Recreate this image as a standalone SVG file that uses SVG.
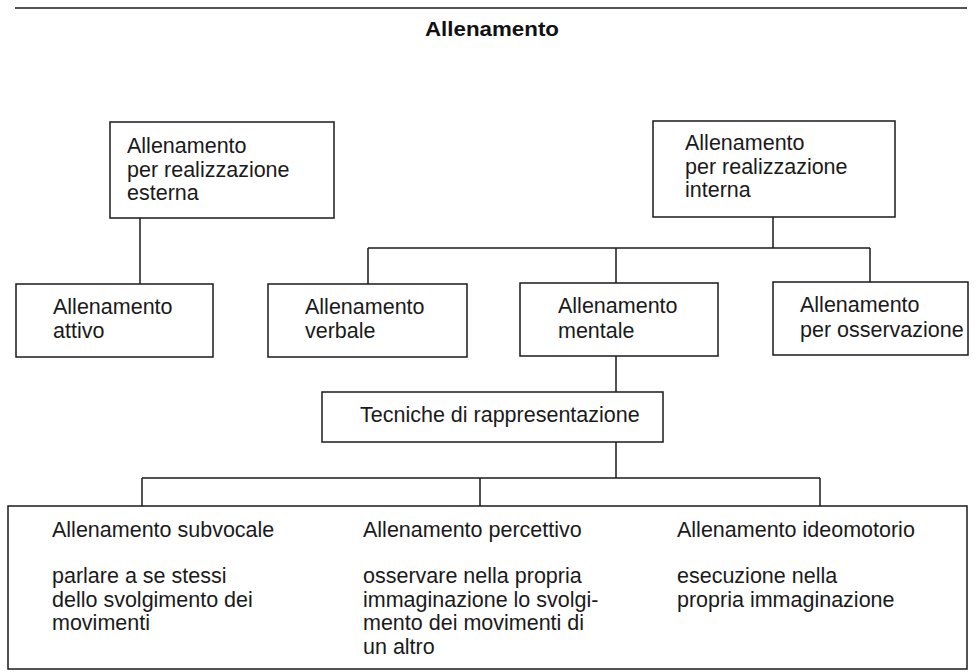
<svg xmlns="http://www.w3.org/2000/svg" width="976" height="672" viewBox="0 0 976 672">
<style>
.box{fill:none;stroke:#1a1a1a;stroke-width:1.5}
.ln{fill:none;stroke:#1a1a1a;stroke-width:1.5}
.t{font-family:"Liberation Sans",Arial,sans-serif;font-size:21.5px;fill:#1a1a1a}
.title{font-family:"Liberation Sans",Arial,sans-serif;font-size:19.5px;font-weight:bold;fill:#111}
</style>
<rect width="976" height="672" fill="#ffffff"/>
<line class="ln" x1="15" y1="8" x2="967" y2="8" stroke-width="2"/>
<text class="title" x="425" y="36" textLength="134" lengthAdjust="spacingAndGlyphs">Allenamento</text>

<g id="connectors">
<path class="ln" d="M140 218V284"/>
<path class="ln" d="M773 217V248M368 248H870M368 248V284M616 248V283M870 248V282"/>
<path class="ln" d="M616 356V392"/>
<path class="ln" d="M616 442V478M142 478H820M142 478V506M480 478V506M820 478V506"/>
</g>

<g id="esterna">
<rect class="box" x="110" y="122" width="224" height="96"/>
<text class="t" x="127" y="153">Allenamento</text>
<text class="t" x="127" y="176.5">per realizzazione</text>
<text class="t" x="127" y="200">esterna</text>
</g>
<g id="interna">
<rect class="box" x="653" y="121" width="242" height="96"/>
<text class="t" x="685" y="150">Allenamento</text>
<text class="t" x="685" y="173.5">per realizzazione</text>
<text class="t" x="685" y="197">interna</text>
</g>
<g id="attivo">
<rect class="box" x="16" y="284" width="197" height="73"/>
<text class="t" x="53" y="314">Allenamento</text>
<text class="t" x="53" y="338">attivo</text>
</g>
<g id="verbale">
<rect class="box" x="268" y="284" width="199" height="73"/>
<text class="t" x="305" y="314">Allenamento</text>
<text class="t" x="305" y="338">verbale</text>
</g>
<g id="mentale">
<rect class="box" x="520" y="283" width="198" height="73"/>
<text class="t" x="558" y="313">Allenamento</text>
<text class="t" x="558" y="338">mentale</text>
</g>
<g id="osservazione">
<rect class="box" x="773" y="282" width="195" height="73"/>
<text class="t" x="800" y="312">Allenamento</text>
<text class="t" x="800" y="337">per osservazione</text>
</g>
<g id="tecniche">
<rect class="box" x="322" y="392" width="341" height="50"/>
<text class="t" x="360" y="422">Tecniche di rappresentazione</text>
</g>
<g id="tecniche-dettaglio">
<rect class="box" x="8" y="506" width="959" height="163"/>
<text class="t" x="52" y="537">Allenamento subvocale</text>
<text class="t" x="52" y="583">parlare a se stessi</text>
<text class="t" x="52" y="606.5">dello svolgimento dei</text>
<text class="t" x="52" y="630">movimenti</text>
<text class="t" x="363" y="537">Allenamento percettivo</text>
<text class="t" x="363" y="583">osservare nella propria</text>
<text class="t" x="363" y="606.5">immaginazione lo svolgi-</text>
<text class="t" x="363" y="630">mento dei movimenti di</text>
<text class="t" x="363" y="653.5">un altro</text>
<text class="t" x="677" y="537">Allenamento ideomotorio</text>
<text class="t" x="677" y="583">esecuzione nella</text>
<text class="t" x="677" y="606.5">propria immaginazione</text>
</g>
</svg>
